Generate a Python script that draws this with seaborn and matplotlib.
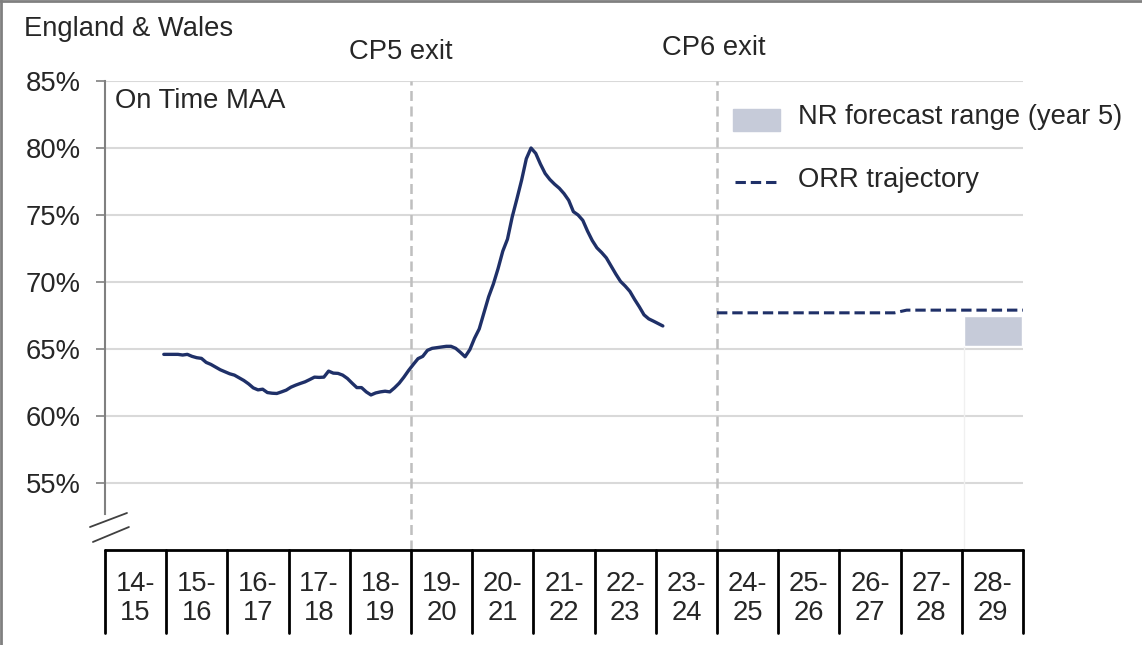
import matplotlib
matplotlib.use("Agg")
import matplotlib.pyplot as plt
import matplotlib.transforms as mtransforms
from matplotlib.lines import Line2D
from matplotlib.patches import Rectangle
import numpy as np
import pandas as pd
import seaborn as sns

# Data
years = ["14-15", "15-16", "16-17", "17-18", "18-19", "19-20", "20-21", "21-22",
         "22-23", "23-24", "24-25", "25-26", "26-27", "27-28", "28-29"]
periods_per_year = 13
first_period = 13  # P13 2014-15 is the first MAA value
on_time_maa = [
    64.6, 64.6, 64.6, 64.6, 64.55, 64.6, 64.45, 64.35, 64.3, 64.0,
    63.85, 63.65, 63.45, 63.3, 63.15, 63.05, 62.85, 62.65, 62.4, 62.1,
    61.95, 62.0, 61.75, 61.7, 61.68, 61.8, 61.93, 62.15, 62.3, 62.43,
    62.55, 62.72, 62.9, 62.88, 62.9, 63.35, 63.2, 63.18, 63.05, 62.8,
    62.45, 62.12, 62.12, 61.8, 61.57, 61.72, 61.8, 61.85, 61.8, 62.1,
    62.45, 62.9, 63.4, 63.85, 64.28, 64.45, 64.9, 65.05, 65.1, 65.15,
    65.2, 65.2, 65.05, 64.75, 64.42, 64.95, 65.8, 66.5, 67.7, 68.9,
    69.85, 71.0, 72.3, 73.2, 74.85, 76.2, 77.6, 79.2, 80.0, 79.6,
    78.8, 78.1, 77.65, 77.3, 77.0, 76.6, 76.1, 75.25, 75.0, 74.6,
    73.8, 73.1, 72.55, 72.2, 71.8, 71.2, 70.6, 70.05, 69.7, 69.3,
    68.7, 68.15, 67.55, 67.25, 67.08, 66.9, 66.72,
]
orr_x = [10, 12.9, 13.1, 15]
orr_values = [67.7, 67.7, 67.9, 67.9]
forecast_year = 14
forecast_low, forecast_high = 65.2, 67.5
cp_exits = [("CP5 exit", 5), ("CP6 exit", 10)]
yticks = [55, 60, 65, 70, 75, 80, 85]

navy = "#1f3068"
grey = "#808080"

sns.set_style("white")
plt.rcParams["font.family"] = ["Liberation Sans", "DejaVu Sans"]
fs = 19.7

fig = plt.figure(figsize=(11.42, 6.45), dpi=100)
ax = fig.add_axes([0.0919, 0.1473, 0.8039, 0.7271])

g = np.arange(len(on_time_maa)) + first_period
df = pd.DataFrame({"x": (g - 0.5) / periods_per_year, "value": on_time_maa})
sns.lineplot(data=df, x="x", y="value", ax=ax, color=navy, lw=2.4, zorder=4)

# ORR trajectory
ax.plot(orr_x, orr_values, color=navy, lw=2.2, ls=(0, (3.4, 1.6)), zorder=4)

# NR forecast range
ax.bar(forecast_year + 0.51, forecast_high - forecast_low, bottom=forecast_low,
       width=0.94, color="#c6cbd9", zorder=3)
ax.plot([forecast_year + 0.04] * 2, [50, forecast_low], color="#f0f0f0", lw=1, zorder=1)

ax.set_xlim(0, 15)
ax.set_ylim(50, 85)
ax.set_yticks(yticks)
ax.set_yticklabels([f"{v}%" for v in yticks])
ax.set_xticks([])
ax.set_xlabel("")
ax.set_ylabel("")
ax.grid(axis="y", color="#d9d9d9", lw=1.5)
ax.tick_params(axis="y", length=6.5, width=1.2, color=grey, pad=11, labelsize=fs,
               left=True)
for s in ["top", "right", "bottom"]:
    ax.spines[s].set_visible(False)
ax.spines["left"].set_color(grey)
ax.spines["left"].set_linewidth(1.5)
ax.spines["left"].set_bounds(52.7, 85)

# axis break marks
for (x0, y0), (x1, y1) in [((-0.0163, 0.049), (0.024, 0.0789)),
                           ((-0.0131, 0.0171), (0.0261, 0.049))]:
    ax.plot([x0, x1], [y0, y1], transform=ax.transAxes, color="#404040",
            lw=1.3, clip_on=False)

# CP exits
trans = mtransforms.blended_transform_factory(ax.transData, ax.transAxes)
for (label, xpos), lx, ly in zip(cp_exits, [4.84, 9.95], [1.0618, 1.0704]):
    ax.axvline(xpos, color="#bfbfbf", lw=1.8, ls=(0, (4, 2.2)), zorder=2)
    ax.text(lx, ly, label, transform=trans, ha="center", va="center", fontsize=fs)

# category table under the axis
ax.plot([0, 15], [0, 0], transform=trans, color="black", lw=2, clip_on=False,
        zorder=5)
for i in range(len(years) + 1):
    ax.plot([i, i], [0, -0.177], transform=trans, color="black", lw=2,
            clip_on=False)
for i, yr in enumerate(years):
    a, b = yr.split("-")
    ax.text(i + 0.5, -0.072, a + "-", transform=trans, ha="center", va="center",
            fontsize=fs)
    ax.text(i + 0.5, -0.135, b, transform=trans, ha="center", va="center",
            fontsize=fs)

# titles
fig.text(24 / 1142, 1 - 29 / 645, "England & Wales", ha="left", va="center",
         fontsize=fs)
ax.text(0.0109, 0.957, "On Time MAA", transform=ax.transAxes, ha="left",
        va="center", fontsize=fs)

# legend
ax.add_patch(Rectangle((0.6841, 0.8934), 0.0512, 0.0469, transform=ax.transAxes,
                       color="#c6cbd9", zorder=5))
ax.text(0.7549, 0.9232, "NR forecast range (year 5)", transform=ax.transAxes,
        ha="left", va="center", fontsize=fs)
ax.plot([0.6863, 0.7353], [0.7846, 0.7846], transform=ax.transAxes, color=navy,
        lw=2.2, ls=(0, (3.4, 1.6)))
ax.text(0.7549, 0.7889, "ORR trajectory", transform=ax.transAxes, ha="left",
        va="center", fontsize=fs)

# figure frame (top and left)
fig.add_artist(Line2D([0, 1], [0.999, 0.999], transform=fig.transFigure,
                      color=grey, lw=2))
fig.add_artist(Line2D([0.001, 0.001], [0, 1], transform=fig.transFigure,
                      color=grey, lw=2))

fig.savefig("out.png", dpi=100)
